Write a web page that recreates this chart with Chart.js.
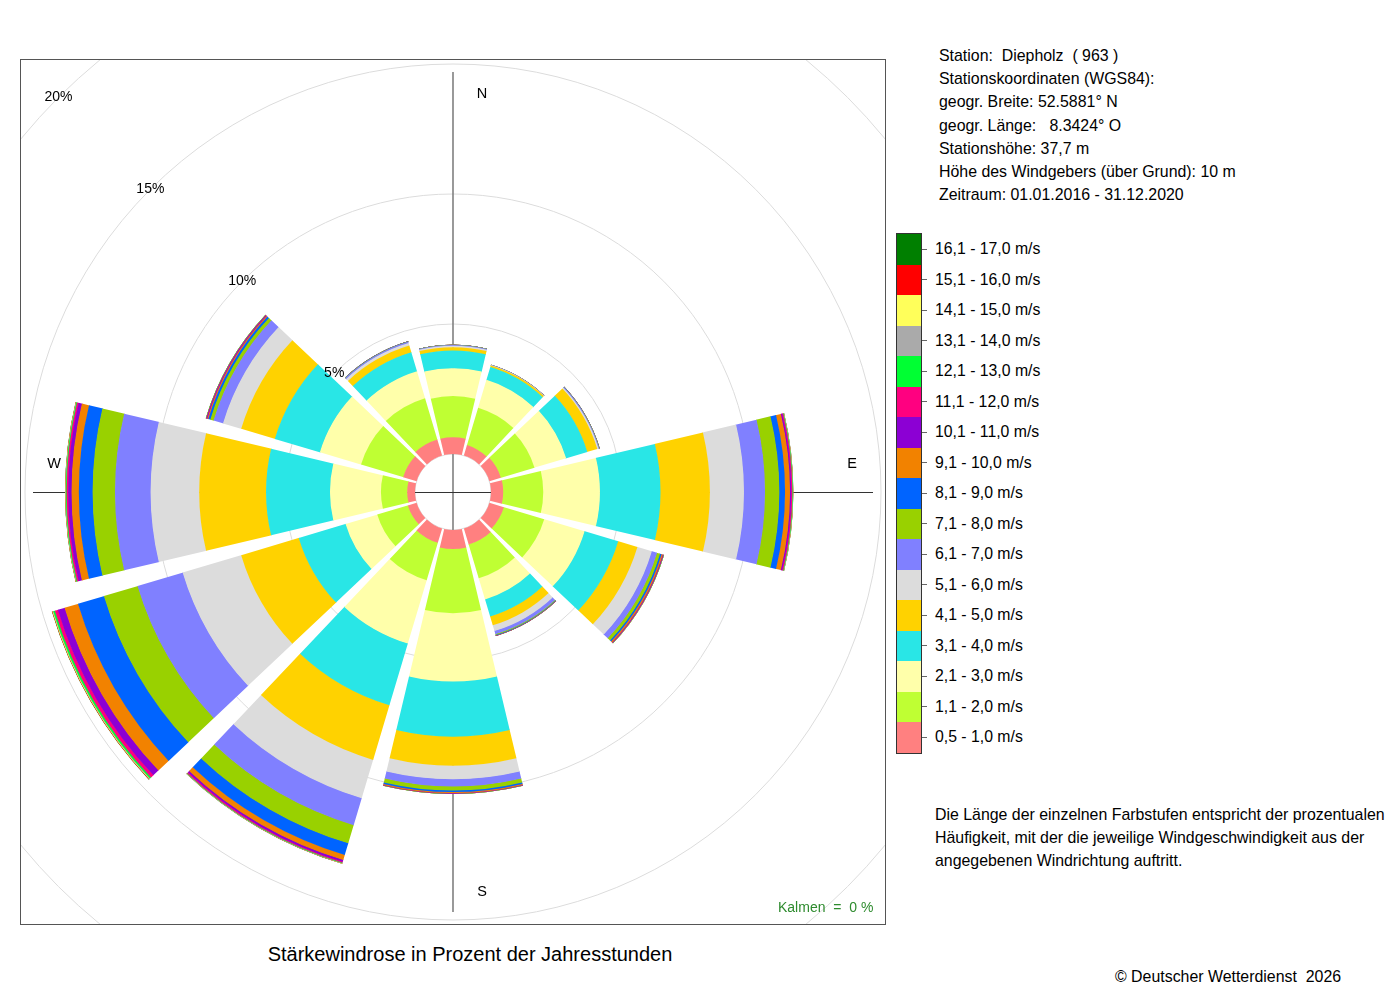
<!DOCTYPE html>
<html>
<head>
<meta charset="utf-8">
<script src="https://cdn.jsdelivr.net/npm/chart.js@4.4.1/dist/chart.umd.min.js"></script>
<style>
  body { margin: 0; width: 1400px; height: 1000px; background: #fff; position: relative; overflow: hidden;
         font-family: "Liberation Sans", Arial, Helvetica, sans-serif; color: #000; }
  #plot { position: absolute; left: 20px; top: 59px; width: 866px; height: 866px; }
  .info { position: absolute; left: 939px; top: 44px; font-size: 15.9px; line-height: 23.2px; white-space: pre; }
  #legendBar { position: absolute; left: 896px; top: 233px; width: 24px; border: 1px solid #333; }
  #legendBar div { height: 30.5px; }
  .lgTick { position: absolute; left: 922px; width: 5px; height: 1px; background: #666; }
  .lgLabel { position: absolute; left: 935px; font-size: 15.8px; line-height: 18px; white-space: pre; }
  .note { position: absolute; left: 935px; top: 803px; font-size: 15.9px; line-height: 23px; white-space: pre; }
  .kalmen { position: absolute; left: 778px; top: 899px; font-size: 14px; color: #2e8b2e; white-space: pre; }
  .title { position: absolute; left: 20px; width: 900px; top: 943px; text-align: center; font-size: 20px; }
  .copy { position: absolute; left: 1115px; top: 968px; font-size: 15.9px; white-space: pre; }
</style>
</head>
<body>
<div id="plot"><canvas id="rose"></canvas></div>

<div class="info">Station:  Diepholz  ( 963 )
Stationskoordinaten (WGS84):
geogr. Breite: 52.5881° N
geogr. Länge:   8.3424° O
Stationshöhe: 37,7 m
Höhe des Windgebers (über Grund): 10 m
Zeitraum: 01.01.2016 - 31.12.2020</div>

<div id="legendBar"></div>
<div id="legendLabels"></div>

<div class="note">Die Länge der einzelnen Farbstufen entspricht der prozentualen
Häufigkeit, mit der die jeweilige Windgeschwindigkeit aus der
angegebenen Windrichtung auftritt.</div>

<div class="kalmen">Kalmen  =  0 %</div>
<div class="title">Stärkewindrose in Prozent der Jahresstunden</div>
<div class="copy">© Deutscher Wetterdienst  2026</div>

<script>
// wind directions (sector centres every 30 degrees, clockwise from north)
const directions = ['N', 'NNO', 'ONO', 'O', 'OSO', 'SSO', 'S', 'SSW', 'WSW', 'W', 'WNW', 'NNW'];

// speed classes, lowest first
const speedClasses = ['0,5 - 1,0 m/s', '1,1 - 2,0 m/s', '2,1 - 3,0 m/s', '3,1 - 4,0 m/s', '4,1 - 5,0 m/s',
  '5,1 - 6,0 m/s', '6,1 - 7,0 m/s', '7,1 - 8,0 m/s', '8,1 - 9,0 m/s', '9,1 - 10,0 m/s', '10,1 - 11,0 m/s',
  '11,1 - 12,0 m/s', '12,1 - 13,0 m/s', '13,1 - 14,0 m/s', '14,1 - 15,0 m/s', '15,1 - 16,0 m/s', '16,1 - 17,0 m/s'];

const classColors = ['#ff8080', '#bfff33', '#ffffaa', '#29e6e6', '#ffd200', '#dcdcdc', '#8080ff', '#99d100',
  '#0064ff', '#f28200', '#8c00d4', '#ff0080', '#00ff33', '#aaaaaa', '#ffff5a', '#ff0000', '#007f00'];

// percent of the yearly hours per direction (N ... NNW) for each speed class
const v05_10  = [0.64, 0.42, 0.46, 0.47, 0.58, 0.65, 0.73, 0.58, 0.35, 0.30, 0.54, 0.65];
const v11_20  = [1.59, 1.50, 1.35, 1.54, 1.62, 1.35, 2.47, 1.50, 1.23, 1.01, 1.69, 1.65];
const v21_30  = [1.07, 1.12, 1.27, 2.18, 1.62, 0.85, 2.63, 2.54, 1.27, 1.96, 1.65, 1.08];
const v31_40  = [0.68, 0.52, 0.85, 2.33, 1.35, 0.69, 2.12, 2.48, 1.88, 2.46, 1.81, 0.77];
const v41_50  = [0.13, 0.06, 0.40, 1.90, 0.77, 0.35, 1.12, 2.19, 2.31, 2.57, 1.35, 0.27];
const v51_60  = [0.05, 0.015, 0.05, 1.31, 0.58, 0.23, 0.52, 1.54, 2.35, 1.87, 0.73, 0.10];
const v61_70  = [0.03, 0.01, 0.03, 0.81, 0.21, 0.13, 0.28, 1.08, 1.81, 1.37, 0.38, 0.05];
const v71_80  = [0.01, 0.005, 0.01, 0.55, 0.12, 0.03, 0.15, 0.73, 1.35, 0.86, 0.13, 0.01];
const v81_90  = [0.005, 0, 0.005, 0.22, 0.06, 0.02, 0.06, 0.47, 1.04, 0.53, 0.08, 0.005];
const v91_100 = [0, 0, 0, 0.19, 0.05, 0.01, 0.04, 0.20, 0.54, 0.28, 0.04, 0];
const v101_110 = [0, 0, 0, 0.05, 0.02, 0.005, 0.015, 0.07, 0.27, 0.13, 0.03, 0];
const v111_120 = [0, 0, 0, 0.04, 0.015, 0, 0.01, 0.04, 0.12, 0.06, 0.02, 0];
const v121_130 = [0, 0, 0, 0.02, 0.01, 0, 0.005, 0.02, 0.06, 0.03, 0.01, 0];
const v131_140 = [0, 0, 0, 0.01, 0.005, 0, 0, 0.01, 0.02, 0.01, 0, 0];
const v141_150 = [0, 0, 0, 0.005, 0, 0, 0, 0.005, 0.02, 0.01, 0, 0];
const v151_160 = [0, 0, 0, 0.003, 0, 0, 0, 0.003, 0.01, 0.005, 0, 0];
const v161_170 = [0, 0, 0, 0.002, 0, 0, 0, 0.002, 0.01, 0.005, 0, 0];

const classValues = [v05_10, v11_20, v21_30, v31_40, v41_50, v51_60, v61_70, v71_80, v81_90,
  v91_100, v101_110, v111_120, v121_130, v131_140, v141_150, v151_160, v161_170];

// grid circles and their labels (percent)
const gridSteps = [0, 5, 10, 15, 20];
const gridLabels = ['5%', '10%', '15%', '20%'];

// sector width / gap in degrees
const sectorDeg = 26.8;
const gapDeg = 30 - sectorDeg;

// each sector is followed by a gap element, so the labels array has 24 entries
const labels = directions.flatMap(d => [d, '']);

// cumulative values so each speed class becomes a ring
let running = directions.map(() => 0);
const datasets = classValues.map((vals, k) => {
  const inner = running.slice();
  running = running.map((s, i) => s + vals[i]);
  const outer = running.slice();
  return {
    label: speedClasses[k],
    data: labels.map((_, j) => j % 2 ? 0 : outer[j >> 1]),
    inner: labels.map((_, j) => j % 2 ? 0 : inner[j >> 1]),
    backgroundColor: labels.map((_, j) => j % 2 ? 'rgba(0,0,0,0)' : classColors[k]),
    borderWidth: 0,
    angle: ctx => ctx.dataIndex % 2 ? gapDeg : sectorDeg
  };
});

// legend built from the same classes (highest on top)
const bar = document.getElementById('legendBar');
const lgLabels = document.getElementById('legendLabels');
for (let k = speedClasses.length - 1, row = 0; k >= 0; k--, row++) {
  const cell = document.createElement('div');
  cell.style.background = classColors[k];
  bar.appendChild(cell);
  const cy = 248.5 + row * 30.5;
  const t = document.createElement('div');
  t.className = 'lgTick';
  t.style.top = cy + 'px';
  lgLabels.appendChild(t);
  const l = document.createElement('div');
  l.className = 'lgLabel';
  l.style.top = (cy - 8.5) + 'px';
  l.textContent = speedClasses[k];
  lgLabels.appendChild(l);
}

// hole in the middle: 0 % sits 38 px from the centre, 26 px per percent
const holePx = 38;
const pxPerPct = 26;
const halfSize = 433;

const roseDecor = {
  id: 'roseDecor',
  afterDatasetUpdate(chart, args) {
    const ds = chart.data.datasets[args.index];
    const r = chart.scales.r;
    args.meta.data.forEach((arc, j) => {
      const v = ds.inner[j];
      // tuck each ring slightly under the next inner one to avoid seams
      arc.innerRadius = Math.max(0, r.getDistanceFromCenterForValue(v) - (v > 0 ? 0.6 : 0));
    });
  },
  beforeDatasetsDraw(chart) {
    const r = chart.scales.r;
    const ctx = chart.ctx;
    const cx = r.xCenter, cy = r.yCenter;
    ctx.save();
    ctx.strokeStyle = '#dcdcdc';
    ctx.lineWidth = 1;
    gridSteps.forEach(v => {
      ctx.beginPath();
      ctx.arc(cx, cy, r.getDistanceFromCenterForValue(v), 0, Math.PI * 2);
      ctx.stroke();
    });
    const len = 420;
    ctx.strokeStyle = '#808080';
    ctx.lineWidth = 1.6;
    ctx.beginPath();
    ctx.moveTo(cx, cy - len);
    ctx.lineTo(cx, cy + len);
    ctx.stroke();
    ctx.strokeStyle = '#333';
    ctx.lineWidth = 1;
    ctx.beginPath();
    ctx.moveTo(cx - len, cy + 0.5);
    ctx.lineTo(cx + len, cy + 0.5);
    ctx.stroke();
    ctx.restore();
  },
  afterDatasetsDraw(chart) {
    const r = chart.scales.r;
    const ctx = chart.ctx;
    const cx = r.xCenter, cy = r.yCenter;
    ctx.save();
    ctx.fillStyle = '#000';
    ctx.textAlign = 'center';
    ctx.textBaseline = 'middle';
    ctx.font = '14px "Liberation Sans", Arial, sans-serif';
    gridLabels.forEach((txt, i) => {
      const d = r.getDistanceFromCenterForValue(gridSteps[i + 1]) * Math.SQRT1_2;
      ctx.fillText(txt, cx - d, cy - d);
    });
    ctx.font = '14.5px "Liberation Sans", Arial, sans-serif';
    ctx.fillText('N', cx + 29, cy - 398);
    ctx.fillText('E', cx + 399, cy - 28);
    ctx.fillText('S', cx + 29, cy + 400);
    ctx.fillText('W', cx - 399, cy - 28);
    // frame
    ctx.strokeStyle = '#555';
    ctx.lineWidth = 1;
    ctx.strokeRect(0.5, 0.5, chart.width - 1, chart.height - 1);
    ctx.restore();
  }
};

new Chart(document.getElementById('rose'), {
  type: 'polarArea',
  data: { labels: labels, datasets: datasets },
  options: {
    responsive: true,
    maintainAspectRatio: false,
    animation: false,
    layout: { padding: 0 },
    plugins: { legend: { display: false }, tooltip: { enabled: false } },
    scales: {
      r: {
        min: -holePx / pxPerPct,
        max: (halfSize - holePx) / pxPerPct,
        startAngle: -sectorDeg / 2,
        ticks: { display: false },
        grid: { display: false },
        angleLines: { display: false },
        pointLabels: { display: false }
      }
    }
  },
  plugins: [roseDecor]
});
</script>
</body>
</html>
